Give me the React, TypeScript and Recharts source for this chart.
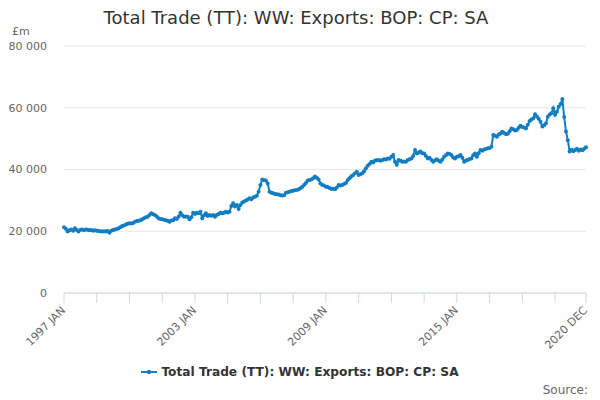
import { LineChart, Line, XAxis, YAxis, CartesianGrid } from 'recharts';

// UK total trade, exports, current prices, seasonally adjusted (£m), monthly
const MONTHS = ['JAN', 'FEB', 'MAR', 'APR', 'MAY', 'JUN', 'JUL', 'AUG', 'SEP', 'OCT', 'NOV', 'DEC'];
const FIRST_YEAR = 1997;

const y1997 = [21300, 20800, 19900, 20300, 20600, 20200, 21000, 20400, 19900, 20500, 20600, 20300];
const y1998 = [20600, 20500, 20300, 20400, 20200, 20300, 20200, 20100, 20000, 19900, 20000, 19900];
const y1999 = [20100, 19500, 20200, 20400, 20600, 20700, 21000, 21300, 21700, 21900, 22200, 22400];
const y2000 = [22600, 22500, 22700, 23100, 23300, 23400, 23600, 23900, 24200, 24500, 24700, 25300];
const y2001 = [25800, 25500, 25300, 24800, 24200, 24000, 23900, 23700, 23600, 23400, 23100, 23500];
const y2002 = [23600, 24200, 24000, 24700, 26000, 25200, 24700, 24800, 24700, 23900, 24500, 26000];
const y2003 = [25600, 26000, 25800, 26300, 24200, 25200, 25800, 24900, 25300, 25000, 25300, 24700];
const y2004 = [25300, 25600, 26000, 25800, 26000, 26300, 26100, 26300, 28200, 29100, 28000, 28500];
const y2005 = [27200, 28500, 29300, 29600, 30000, 30300, 30700, 30400, 30900, 31200, 31500, 32800];
const y2006 = [35000, 36800, 36500, 36400, 35500, 32800, 32500, 32300, 32100, 32000, 31900, 31700];
const y2007 = [31600, 31700, 32500, 32600, 32800, 33000, 33100, 33300, 33400, 33600, 33900, 34400];
const y2008 = [35000, 35600, 36400, 36600, 36800, 37200, 37700, 37300, 36800, 35500, 35000, 34800];
const y2009 = [34400, 34300, 34000, 33700, 33800, 33600, 34200, 35000, 34800, 35000, 35300, 35600];
const y2010 = [36600, 37200, 37800, 38200, 38800, 39300, 38200, 38500, 38800, 39400, 40400, 41200];
const y2011 = [41800, 42500, 42300, 42900, 43000, 43100, 42800, 43100, 43300, 43200, 43600, 43500];
const y2012 = [44100, 44700, 42500, 41500, 43100, 42800, 42500, 42600, 42500, 43100, 43300, 43600];
const y2013 = [44400, 46300, 45200, 45500, 45800, 45300, 45200, 44400, 43600, 43800, 43100, 42500];
const y2014 = [43000, 43300, 42800, 42500, 43200, 44100, 44600, 45200, 45000, 44700, 43900, 43600];
const y2015 = [44100, 44300, 44700, 43800, 42500, 42900, 43100, 43400, 43600, 44600, 45200, 44100];
const y2016 = [45300, 46300, 46100, 46500, 46600, 46900, 47000, 47400, 51200, 50900, 50600, 51300];
const y2017 = [51700, 52200, 51800, 51400, 51600, 52400, 53300, 53000, 52600, 52800, 53500, 54200];
const y2018 = [53800, 53600, 53300, 54500, 55700, 56200, 56600, 57900, 57200, 56400, 55500, 53900];
const y2019 = [54300, 55000, 57100, 57800, 58200, 59800, 57700, 58700, 60300, 61200, 62800, 57000];
const y2020 = [52300, 49500, 45800, 46400, 45900, 46300, 46700, 46100, 46500, 46200, 46700, 47200];

const YEARS = [
  y1997, y1998, y1999, y2000, y2001, y2002, y2003, y2004, y2005, y2006, y2007, y2008,
  y2009, y2010, y2011, y2012, y2013, y2014, y2015, y2016, y2017, y2018, y2019, y2020,
];

const Y_TICKS = [0, 20000, 40000, 60000, 80000];
const LABELLED = ['1997 JAN', '2003 JAN', '2009 JAN', '2015 JAN', '2020 DEC'];

const TITLE = 'Total Trade (TT): WW: Exports: BOP: CP: SA';
const BLUE = '#137dc3';

const data = YEARS.flatMap((vals, yi) =>
  vals.map((v, m) => ({ i: yi * 12 + m, month: `${FIRST_YEAR + yi} ${MONTHS[m]}`, value: v }))
);

const last = data.length - 1;
const xTicks: number[] = [];
for (let t = 0; t < last; t += 18) xTicks.push(t);
xTicks.push(last);

const fmt = (v: number) => String(v).replace(/\B(?=(\d{3})+(?!\d))/g, ' ');

function XTick(props: any) {
  const { x, y, payload } = props;
  const label = data[payload.value]?.month;
  if (!LABELLED.includes(label)) return <g />;
  const ax = x + 2;
  const ay = y + 6;
  return (
    <text x={ax} y={ay} transform={`rotate(-45, ${ax}, ${ay})`} textAnchor="end" fontSize={11} fill="#666666">
      {label}
    </text>
  );
}

export default function App() {
  return (
    <div
      style={{
        position: 'fixed',
        left: 0,
        top: 0,
        width: 600,
        height: 400,
        background: '#fff',
        fontFamily: '"DejaVu Sans", sans-serif',
      }}
    >
      <div style={{ position: 'absolute', left: 0, width: 592, top: 7, textAlign: 'center', fontSize: 18, color: '#333333' }}>
        {TITLE}
      </div>
      <div style={{ position: 'absolute', left: 12, top: 25, fontSize: 11, color: '#666666' }}>£m</div>

      <LineChart width={600} height={400} data={data} margin={{ top: 46, right: 14, left: 0, bottom: 0 }}>
        <CartesianGrid horizontal vertical={false} stroke="#e6e6e6" />
        <XAxis
          dataKey="i"
          type="number"
          domain={[0, last]}
          ticks={xTicks}
          interval={0}
          height={107}
          tick={<XTick />}
          tickSize={10}
          stroke="#ccd6eb"
          tickLine={{ stroke: '#ccd6eb' }}
          axisLine={{ stroke: '#ccd6eb' }}
        />
        <YAxis
          type="number"
          domain={[0, 80000]}
          ticks={Y_TICKS}
          width={64}
          axisLine={false}
          tickLine={false}
          tickSize={0}
          tickMargin={17}
          tickFormatter={fmt}
          tick={{ fontSize: 11, fill: '#666666' }}
        />
        <Line
          type="linear"
          dataKey="value"
          stroke={BLUE}
          strokeWidth={2}
          dot={{ r: 2, fill: BLUE, stroke: BLUE, strokeWidth: 0 }}
          isAnimationActive={false}
        />
      </LineChart>

      <div style={{ position: 'absolute', left: 0, width: 600, top: 365, display: 'flex', justifyContent: 'center', alignItems: 'center' }}>
        <svg width={16} height={10} style={{ marginRight: 4 }}>
          <line x1={0} y1={5} x2={16} y2={5} stroke={BLUE} strokeWidth={2} />
          <circle cx={8} cy={5} r={2.2} fill={BLUE} />
        </svg>
        <span style={{ fontSize: 12.2, fontWeight: 'bold', color: '#333333' }}>{TITLE}</span>
      </div>
      <div style={{ position: 'absolute', right: 12, top: 383, fontSize: 12, color: '#666666' }}>Source:</div>
    </div>
  );
}
